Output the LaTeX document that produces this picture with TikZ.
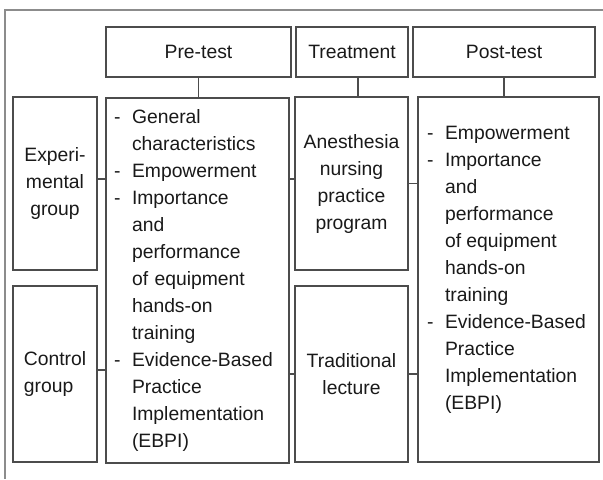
\documentclass[tikz,border=0pt]{standalone}
\usepackage{fontspec}
\setmainfont{Liberation Sans}
\usetikzlibrary{positioning}
\tikzset{
    box/.style={draw=black!70, line width=0.8pt, inner sep=0pt, text=black!90,
        font=\fontsize{14.5}{20.25}\selectfont},
    hd/.style={box, minimum height=37.5pt},
    link/.style={draw=black!70, line width=0.8pt},
}
\newcommand{\itm}{\makebox[13.5pt][l]{-}}
\newcommand{\ind}{\hspace*{13.5pt}}

\begin{document}
\begin{tikzpicture}[x=0.75pt, y=-0.75pt]
    \useasboundingbox (0,0) rectangle (603,479);
    \draw[black!45, line width=1pt] (603,10) -- (5,10) -- (5,479);
    % column heads
    \node[hd, minimum width=138.75pt] (prehd) at (198.5,52) {Pre-test};
    \node[hd, minimum width=84pt] (trthd) at (352,52) {Treatment};
    \node[hd, minimum width=136.5pt] (posthd) at (504,52) {Post-test};
    % groups
    \node[box, minimum width=63pt, minimum height=129.75pt, align=center] (exp) at (55,183.5)
        {Experi-\\mental\\group};
    \node[box, minimum width=63pt, minimum height=132pt, align=left] (ctl) at (55,374)
        {Control\\group};
    % pre-test
    \node[box, minimum width=137.25pt, minimum height=273.75pt, text width=125.25pt, align=left] (pre) at (197.5,280.5)
        {\itm General\\
         \ind characteristics\\
         \itm Empowerment\\
         \itm Importance\\
         \ind and\\
         \ind performance\\
         \ind of equipment\\
         \ind hands-on\\
         \ind training\\
         \itm Evidence-Based\\
         \ind Practice\\
         \ind Implementation\\
         \ind (EBPI)};
    % treatment
    \node[box, minimum width=84.75pt, minimum height=129.75pt, align=center] (trt) at (351.5,183.5)
        {Anesthesia\\nursing\\practice\\program};
    \node[box, minimum width=84.75pt, minimum height=132pt, align=center] (trad) at (351.5,374)
        {Traditional\\lecture};
    % post-test
    \node[box, minimum width=135.75pt, minimum height=273.75pt] (post) at (508.5,279.5)
        {\parbox[c][230pt][t]{122.25pt}{\raggedright
         \itm Empowerment\\
         \itm Importance\\
         \ind and\\
         \ind performance\\
         \ind of equipment\\
         \ind hands-on\\
         \ind training\\
         \itm Evidence-Based\\
         \ind Practice\\
         \ind Implementation\\
         \ind (EBPI)}};
    % links
    \draw[link] (prehd.south) -- (prehd.south |- pre.north);
    \draw[link] ([xshift=4.5pt]trthd.south) -- ([xshift=4.5pt]trthd.south |- trt.north);
    \draw[link] (posthd.south) -- (posthd.south |- post.north);
    \draw[link] ([yshift=3.4pt]exp.east) -- ([yshift=3.4pt]exp.east -| pre.west);
    \draw[link] ([yshift=3.4pt]trt.west -| pre.east) -- ([yshift=3.4pt]trt.west);
    \draw[link] (trt.east) -- (trt.east -| post.west);
    \draw[link] ([yshift=3pt]ctl.east) -- ([yshift=3pt]ctl.east -| pre.west);
    \draw[link] (trad.west -| pre.east) -- (trad.west);
    \draw[link] (trad.east) -- (trad.east -| post.west);
\end{tikzpicture}
\end{document}
